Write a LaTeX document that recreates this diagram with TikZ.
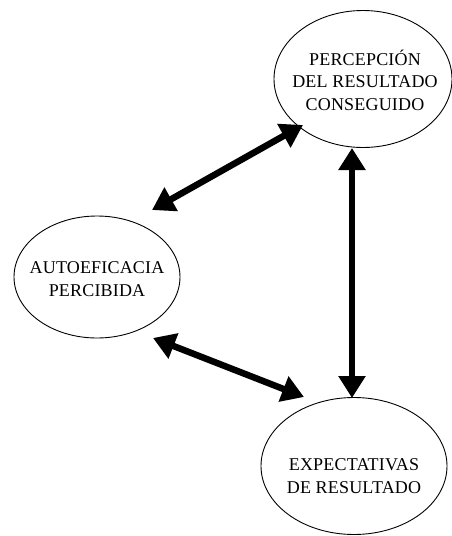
\documentclass[tikz,border=0pt]{standalone}
\usepackage{fontspec}
\setmainfont{Liberation Serif}[LetterSpace=1]
\usetikzlibrary{arrows.meta,shapes.geometric}
\begin{document}
\begin{tikzpicture}[x=1pt,y=-1pt,
  blob/.style={draw=black,line width=0.9pt,ellipse,inner sep=0pt},
  caption/.style={align=center,font=\fontsize{18}{22.5}\selectfont,text=black,inner sep=0pt},
  twoway/.style={line width=6.5pt,{Triangle[length=22pt,width=26pt]}-{Triangle[length=22pt,width=26pt]}}]
\useasboundingbox (0,0) rectangle (452,536);
\fill[white] (0,0) rectangle (452,536);

% the three concepts
\node[blob,minimum width=178pt,minimum height=137pt] (perc) at (363,79) {};
\node[caption] at (365,80) {PERCEPCIÓN\\DEL RESULTADO\\CONSEGUIDO};

\node[blob,minimum width=166pt,minimum height=122pt] (auto) at (97,277) {};
\node[caption] at (97,279) {AUTOEFICACIA\\PERCIBIDA};

\node[blob,minimum width=186pt,minimum height=137pt] (expe) at (354,466) {};
\node[caption] at (354,476) {EXPECTATIVAS\\DE RESULTADO};

% arrow end points just outside the ellipses
\coordinate (autoTop) at (152,210);
\coordinate (percLow) at (303,125);
\coordinate (autoLow) at (153,338);
\coordinate (expeTopL) at (304,397);
\coordinate (percBot) at (352,148);
\coordinate (expeTop) at (352,398);

% mutual influences
\draw[twoway] (autoTop) -- (percLow);
\draw[twoway] (autoLow) -- (expeTopL);
\draw[twoway] (percBot) -- (expeTop);
\end{tikzpicture}
\end{document}
